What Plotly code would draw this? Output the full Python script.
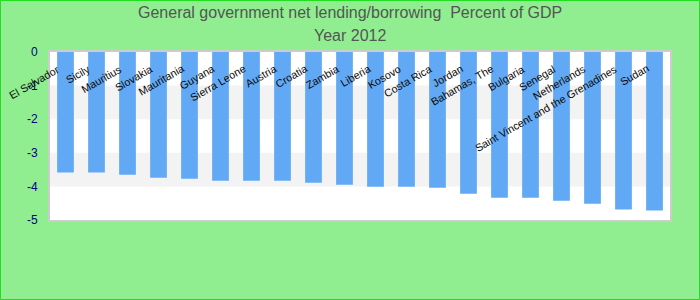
import plotly.graph_objects as go

categories = ["El Salvador", "Sicily", "Mauritius", "Slovakia", "Mauritania", "Guyana",
              "Sierra Leone", "Austria", "Croatia", "Zambia", "Liberia", "Kosovo",
              "Costa Rica", "Jordan", "Bahamas, The", "Bulgaria", "Senegal",
              "Netherlands", "Saint Vincent and the Grenadines", "Sudan"]
values = [-3.59, -3.59, -3.65, -3.74, -3.77, -3.83, -3.83, -3.83, -3.89, -3.95,
          -4.01, -4.01, -4.04, -4.22, -4.34, -4.34, -4.43, -4.52, -4.69, -4.72]
y_ticks = [0, -1, -2, -3, -4, -5]
bands = [(-1, -2), (-3, -4)]
title_lines = ["General government net lending/borrowing  Percent of GDP", "Year 2012"]

ML, MR, MT, MB = 50, 30, 52, 80
W, H = 700, 300
PW, PH = W - ML - MR, H - MT - MB

fig = go.Figure()
fig.add_trace(go.Bar(x=list(range(len(categories))), y=values, marker_color="#62A9F5",
                     marker_line_width=0, width=0.54, hovertext=categories))

shapes = []
for y0, y1 in bands:
    shapes.append(dict(type="rect", xref="paper", yref="y", x0=0, x1=1, y0=y0, y1=y1,
                       fillcolor="#F3F3F3", line_width=0, layer="below"))
shapes.append(dict(type="rect", xref="paper", yref="paper",
                   x0=-ML / PW + 0.5 / PW, x1=(PW + MR) / PW - 0.5 / PW,
                   y0=-MB / PH + 0.5 / PH, y1=(PH + MT) / PH - 0.5 / PH,
                   line=dict(color="#22DD22", width=1), fillcolor="rgba(0,0,0,0)", layer="below"))

annotations = []
for i, c in enumerate(categories):
    annotations.append(dict(x=i, y=0, xref="x", yref="y", text=c, showarrow=False,
                            textangle=-30, xanchor="right", yanchor="top",
                            xshift=-1.3, yshift=-7.6,
                            font=dict(family="Liberation Sans, Arial", size=10.8, color="#0A0A0A")))
for line, ypx in zip(title_lines, [13, 36]):
    annotations.append(dict(x=(W / 2 - ML) / PW, y=(PH + MT - ypx) / PH, xref="paper", yref="paper",
                            text=line, showarrow=False, xanchor="center", yanchor="middle",
                            font=dict(family="Liberation Sans, Arial", size=16, color="#555555")))

fig.update_layout(
    width=W, height=H,
    margin=dict(l=ML, r=MR, t=MT, b=MB),
    paper_bgcolor="#90EE90",
    plot_bgcolor="#FFFFFF",
    showlegend=False,
    shapes=shapes,
    annotations=annotations,
)
fig.update_xaxes(range=[-0.5, len(categories) - 0.5], autorange=False,
                 showticklabels=False, showgrid=False, zeroline=False,
                 showline=True, mirror=True, linecolor="#CCCCCC", linewidth=2, ticks="")
fig.update_yaxes(range=[-5, 0], autorange=False, tickvals=y_ticks,
                 ticktext=[str(v) for v in y_ticks],
                 showgrid=False, zeroline=False, showline=True, mirror=True,
                 linecolor="#CCCCCC", linewidth=2, ticks="", ticklabelstandoff=8,
                 tickfont=dict(family="Liberation Sans, Arial", size=12, color="#000080"))

fig.write_html("out.html")
